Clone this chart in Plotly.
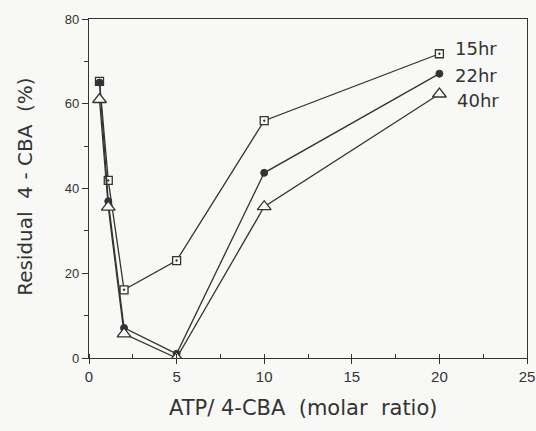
import plotly.graph_objects as go

x_vals = [0.6, 1.1, 2, 5, 10, 20]
y_15hr = [65.3, 41.9, 16.1, 23.0, 56.0, 71.8]
y_22hr = [65.0, 37.0, 7.1, 1.0, 43.7, 67.1]
y_40hr = [61.0, 35.6, 5.7, 0.0, 35.7, 62.3]
series_labels = ["15hr", "22hr", "40hr"]
label_x = [20.75, 20.75, 20.9]
label_y = [73.0, 66.6, 60.8]
x_ticks = [0, 5, 10, 15, 20, 25]
y_ticks = [0, 20, 40, 60, 80]

ink = "#333333"
paper = "#f8f8f6"

fig = go.Figure()
fig.add_trace(go.Scatter(x=x_vals, y=y_15hr, mode="lines+markers",
                         line=dict(color=ink, width=1.3),
                         marker=dict(symbol="square-dot", size=8, color=paper,
                                     line=dict(color=ink, width=1.3))))
fig.add_trace(go.Scatter(x=x_vals, y=y_22hr, mode="lines+markers",
                         line=dict(color=ink, width=1.3),
                         marker=dict(symbol="circle", size=7, color=ink,
                                     line=dict(color=ink, width=1))))
fig.add_trace(go.Scatter(x=x_vals, y=y_40hr, mode="lines+markers",
                         line=dict(color=ink, width=1.3),
                         marker=dict(symbol="triangle-up", size=12, color=paper,
                                     line=dict(color=ink, width=1.3))))

for lab, lx, ly in zip(series_labels, label_x, label_y):
    fig.add_annotation(x=lx, y=ly, text=lab, showarrow=False, xanchor="left",
                       yanchor="middle", font=dict(family="DejaVu Sans", size=18, color=ink))

fig.add_annotation(x=0.49, y=-0.147, xref="paper", yref="paper", showarrow=False,
                   text="ATP/ 4-CBA  (molar  ratio)", xanchor="center", yanchor="middle",
                   font=dict(family="DejaVu Sans", size=21, color=ink))
fig.add_annotation(x=-0.146, y=0.505, xref="paper", yref="paper", showarrow=False,
                   text="Residual  4 - CBA  (%)", textangle=-90, xanchor="center", yanchor="middle",
                   font=dict(family="DejaVu Sans", size=20, color=ink))

fig.update_layout(
    width=536, height=431,
    margin=dict(l=89, r=9, t=19, b=73),
    paper_bgcolor=paper, plot_bgcolor=paper,
    showlegend=False,
    font=dict(family="Liberation Sans", size=13, color=ink),
)
fig.update_xaxes(range=[0, 25], tickvals=x_ticks, ticks="outside", ticklen=5,
                 tickcolor=ink, showline=True, linecolor=ink, linewidth=1.3, mirror=True,
                 showgrid=False, zeroline=False, tickfont=dict(size=15), automargin=False,
                 minor=dict(dtick=2.5, ticks="inside", ticklen=4, tickcolor=ink, showgrid=False))
fig.update_yaxes(range=[0, 80], tickvals=y_ticks, ticks="outside", ticklen=6,
                 tickcolor=ink, showline=True, linecolor=ink, linewidth=1.3, mirror=True,
                 showgrid=False, zeroline=False, tickfont=dict(size=13), automargin=False,
                 minor=dict(dtick=10, ticks="outside", ticklen=4, tickcolor=ink, showgrid=False))

fig.write_html("out.html")
